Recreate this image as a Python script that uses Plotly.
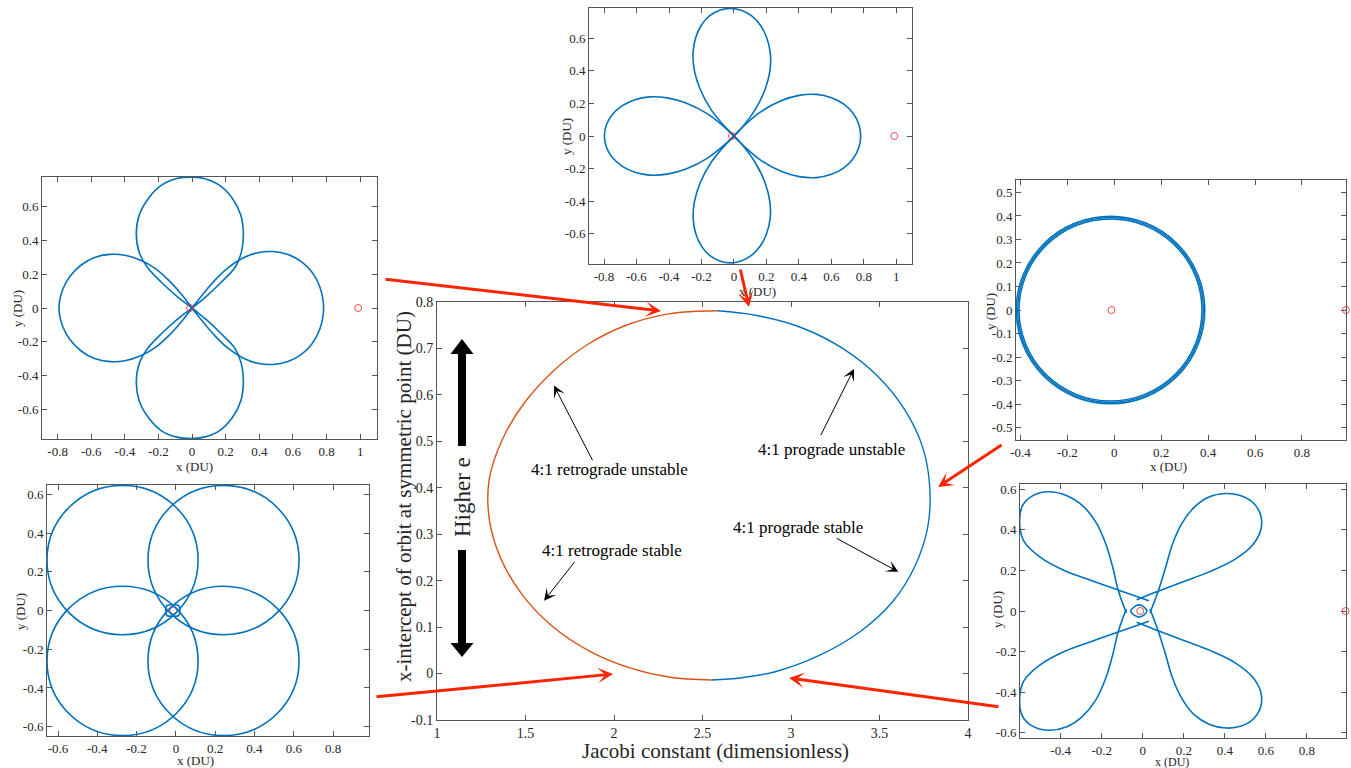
import plotly.graph_objects as go

W, H = 1351, 768
BLUE = "#0072BD"
ORANGE = "#D95319"
RED_ARROW = "#ff2400"
FRAME = "#555555"
TXT = "#262626"
FONT = "Liberation Serif"

# ---------------- family of 4:1 resonant orbits (centre panel)
retro_C = [2.585, 2.318, 2.076, 1.853, 1.659, 1.492, 1.368, 1.295, 1.296, 1.360, 1.481, 1.651, 1.864, 2.108, 2.318, 2.552]
retro_x0 = [0.781, 0.775, 0.751, 0.709, 0.652, 0.582, 0.503, 0.418, 0.331, 0.248, 0.170, 0.102, 0.048, 0.010, -0.008, -0.014]
pro_C = [2.585, 2.805, 3.064, 3.296, 3.493, 3.644, 3.745, 3.784, 3.772, 3.700, 3.575, 3.390, 3.160, 2.911, 2.720, 2.552]
pro_x0 = [0.781, 0.771, 0.744, 0.699, 0.639, 0.567, 0.486, 0.401, 0.314, 0.231, 0.155, 0.090, 0.039, 0.004, -0.009, -0.014]

main_xticks = [1, 1.5, 2, 2.5, 3, 3.5, 4]
main_xtext = ["1", "1.5", "2", "2.5", "3", "3.5", "4"]
main_yticks = [-0.1, 0, 0.1, 0.2, 0.3, 0.4, 0.5, 0.6, 0.7, 0.8]
main_ytext = ["-0.1", "0", "0.1", "0.2", "0.3", "0.4", "0.5", "0.6", "0.7", "0.8"]

# primaries (Earth, Moon) in the rotating frame
primary_x = [-0.01215, 0.98785]
primary_y = [0.0, 0.0]

# ---------------- orbit A: prograde unstable, round lobes through the origin
A_top_x = [0.03, 0.0, -0.085, -0.18, -0.265, -0.315, -0.332, -0.315, -0.26, -0.18, -0.09, -0.01, 0.07, 0.16, 0.24, 0.29, 0.305, 0.293, 0.255, 0.17, 0.08, 0.0, -0.03]
A_top_y = [-0.025, 0.0, 0.065, 0.15, 0.24, 0.33, 0.44, 0.55, 0.65, 0.73, 0.768, 0.776, 0.768, 0.73, 0.65, 0.55, 0.44, 0.33, 0.24, 0.15, 0.065, 0.0, -0.025]
A_right_x = [-0.025, 0.0, 0.065, 0.14, 0.215, 0.30, 0.39, 0.48, 0.57, 0.65, 0.715, 0.76, 0.78, 0.78, 0.76, 0.715, 0.65, 0.57, 0.48, 0.39, 0.30, 0.215, 0.14, 0.065, 0.0, -0.025]
A_right_y = [-0.03, 0.0, 0.083, 0.17, 0.24, 0.295, 0.328, 0.335, 0.318, 0.275, 0.21, 0.125, 0.04, -0.04, -0.125, -0.21, -0.275, -0.318, -0.335, -0.328, -0.295, -0.24, -0.17, -0.083, 0.0, 0.03]
A_left_x = [0.025, 0.0, -0.065, -0.14, -0.22, -0.31, -0.40, -0.49, -0.58, -0.66, -0.725, -0.77, -0.79, -0.79, -0.77, -0.725, -0.66, -0.58, -0.49, -0.40, -0.31, -0.22, -0.14, -0.065, 0.0, 0.025]
A_left_y = [-0.03, 0.0, 0.083, 0.165, 0.235, 0.285, 0.313, 0.318, 0.30, 0.255, 0.19, 0.11, 0.03, -0.03, -0.11, -0.19, -0.255, -0.30, -0.318, -0.313, -0.285, -0.235, -0.165, -0.083, 0.0, 0.03]
A_bot_x = [0.03, 0.0, -0.085, -0.18, -0.265, -0.315, -0.332, -0.315, -0.26, -0.18, -0.09, -0.01, 0.07, 0.16, 0.24, 0.29, 0.305, 0.293, 0.255, 0.17, 0.08, 0.0, -0.03]
A_bot_y = [0.025, 0.0, -0.065, -0.15, -0.24, -0.33, -0.44, -0.55, -0.65, -0.73, -0.766, -0.774, -0.766, -0.73, -0.65, -0.55, -0.44, -0.33, -0.24, -0.15, -0.065, 0.0, 0.025]

# ---------------- orbit B: top of the family, teardrop petals
B_top_x = [0.03, 0.0, -0.045, -0.141, -0.208, -0.244, -0.252, -0.236, -0.201, -0.151, -0.089, -0.022, 0.045, 0.109, 0.163, 0.202, 0.224, 0.222, 0.192, 0.131, 0.043, 0.0, -0.03]
B_top_y = [-0.03, 0.0, 0.045, 0.162, 0.287, 0.403, 0.510, 0.603, 0.679, 0.736, 0.771, 0.783, 0.771, 0.736, 0.679, 0.603, 0.510, 0.403, 0.287, 0.162, 0.045, 0.0, -0.03]
B_right_x = [-0.03, 0.0, 0.045, 0.162, 0.286, 0.402, 0.508, 0.601, 0.677, 0.734, 0.769, 0.781, 0.769, 0.734, 0.677, 0.601, 0.508, 0.402, 0.286, 0.162, 0.045, 0.0, -0.03]
B_right_y = [0.03, 0.0, -0.047, -0.146, -0.215, -0.249, -0.255, -0.235, -0.195, -0.139, -0.072, 0.0, 0.072, 0.139, 0.195, 0.235, 0.255, 0.249, 0.215, 0.146, 0.047, 0.0, -0.03]
B_left_x = [0.03, 0.0, -0.046, -0.165, -0.292, -0.411, -0.520, -0.614, -0.692, -0.750, -0.786, -0.798, -0.786, -0.750, -0.692, -0.614, -0.520, -0.411, -0.292, -0.165, -0.046, 0.0, 0.03]
B_left_y = [0.03, 0.0, -0.044, -0.137, -0.201, -0.234, -0.240, -0.221, -0.183, -0.131, -0.068, 0.0, 0.068, 0.131, 0.183, 0.221, 0.240, 0.234, 0.201, 0.137, 0.044, 0.0, -0.03]
B_bot_x = [0.03, 0.0, -0.045, -0.140, -0.207, -0.243, -0.251, -0.235, -0.200, -0.150, -0.088, -0.022, 0.044, 0.108, 0.162, 0.201, 0.223, 0.221, 0.191, 0.130, 0.043, 0.0, -0.03]
B_bot_y = [0.03, 0.0, -0.045, -0.161, -0.285, -0.401, -0.507, -0.599, -0.675, -0.732, -0.766, -0.778, -0.766, -0.732, -0.675, -0.599, -0.507, -0.401, -0.285, -0.161, -0.045, 0.0, 0.03]

# ---------------- orbit C: near-circular prograde stable, a few revolutions
C_ring_x0 = [-0.418, -0.412, -0.406]
C_ring_x1 = [0.386, 0.380, 0.374]
C_ring_y0 = [-0.399, -0.393, -0.387]
C_ring_y1 = [0.399, 0.393, 0.387]

# ---------------- orbit D: retrograde unstable, four circles
D_circ_x0 = [-0.656, -0.142, -0.656, -0.142]
D_circ_x1 = [0.113, 0.627, 0.113, 0.627]
D_circ_y0 = [-0.125, -0.125, -0.646, -0.646]
D_circ_y1 = [0.646, 0.646, 0.125, 0.125]
D_core_x = [-0.052, -0.047, -0.016, 0.015, 0.020, 0.015, -0.016, -0.047, -0.052]
D_core_y = [0.0, 0.025, 0.030, 0.025, 0.0, -0.025, -0.030, -0.025, 0.0]

# ---------------- orbit E: retrograde stable, diagonal petals
E_ur_x = [-0.03, 0.075, 0.20, 0.33, 0.45, 0.535, 0.575, 0.575, 0.54, 0.475, 0.40, 0.32, 0.25, 0.19, 0.145, 0.11, 0.075, 0.035]
E_ur_y = [0.055, 0.097, 0.145, 0.195, 0.255, 0.325, 0.40, 0.47, 0.53, 0.568, 0.578, 0.56, 0.51, 0.43, 0.33, 0.21, 0.097, -0.01]
E_ul_x = [0.03, -0.12, -0.25, -0.38, -0.50, -0.58, -0.60, -0.585, -0.535, -0.46, -0.375, -0.295, -0.23, -0.18, -0.145, -0.12, -0.08]
E_ul_y = [0.05, 0.103, 0.15, 0.198, 0.265, 0.345, 0.44, 0.52, 0.568, 0.587, 0.57, 0.52, 0.44, 0.33, 0.21, 0.103, -0.01]
E_lr_x = [-0.03, 0.075, 0.20, 0.33, 0.45, 0.535, 0.575, 0.575, 0.54, 0.48, 0.405, 0.325, 0.25, 0.19, 0.145, 0.11, 0.075, 0.035]
E_lr_y = [-0.055, -0.097, -0.145, -0.195, -0.255, -0.325, -0.40, -0.47, -0.53, -0.566, -0.576, -0.558, -0.51, -0.43, -0.33, -0.21, -0.097, 0.01]
E_ll_x = [0.03, -0.12, -0.25, -0.38, -0.50, -0.58, -0.60, -0.585, -0.535, -0.455, -0.37, -0.295, -0.23, -0.18, -0.145, -0.12, -0.08]
E_ll_y = [-0.05, -0.103, -0.15, -0.198, -0.265, -0.345, -0.44, -0.52, -0.568, -0.587, -0.57, -0.52, -0.44, -0.33, -0.21, -0.103, 0.01]
E_core_x = [-0.058, -0.040, -0.018, 0.004, 0.020, 0.004, -0.018, -0.040, -0.058]
E_core_y = [0.0, 0.022, 0.030, 0.022, 0.0, -0.022, -0.030, -0.022, 0.0]

# tick sets for the orbit panels
t_08_1 = [-0.8, -0.6, -0.4, -0.2, 0, 0.2, 0.4, 0.6, 0.8, 1]
t_08_1_txt = ["-0.8", "-0.6", "-0.4", "-0.2", "0", "0.2", "0.4", "0.6", "0.8", "1"]
t_06 = [-0.6, -0.4, -0.2, 0, 0.2, 0.4, 0.6]
t_06_txt = ["-0.6", "-0.4", "-0.2", "0", "0.2", "0.4", "0.6"]
t_06_08 = [-0.6, -0.4, -0.2, 0, 0.2, 0.4, 0.6, 0.8]
t_06_08_txt = ["-0.6", "-0.4", "-0.2", "0", "0.2", "0.4", "0.6", "0.8"]
t_04_08 = [-0.4, -0.2, 0, 0.2, 0.4, 0.6, 0.8]
t_04_08_txt = ["-0.4", "-0.2", "0", "0.2", "0.4", "0.6", "0.8"]
t_05 = [-0.5, -0.4, -0.3, -0.2, -0.1, 0, 0.1, 0.2, 0.3, 0.4, 0.5]
t_05_txt = ["-0.5", "-0.4", "-0.3", "-0.2", "-0.1", "0", "0.1", "0.2", "0.3", "0.4", "0.5"]


def px(x):
    return x / W


def py(y):
    return 1 - y / H


# panel frames in page pixels: left, right, top, bottom
panels = {
    "": dict(box=(437, 968, 302, 720), xr=[1, 4], yr=[-0.1, 0.8],
             xt=(main_xticks, main_xtext), yt=(main_yticks, main_ytext), fs=14),
    "2": dict(box=(42, 377, 177, 439), xr=[-0.893, 1.1], yr=[-0.777, 0.777],
              xt=(t_08_1, t_08_1_txt), yt=(t_06, t_06_txt), fs=13),
    "3": dict(box=(589, 912, 8, 264), xr=[-0.893, 1.097], yr=[-0.785, 0.785],
              xt=(t_08_1, t_08_1_txt), yt=(t_06, t_06_txt), fs=13),
    "4": dict(box=(1016, 1346, 180, 440), xr=[-0.419, 0.988], yr=[-0.553, 0.553],
              xt=(t_04_08, t_04_08_txt), yt=(t_05, t_05_txt), fs=13),
    "5": dict(box=(47, 369, 485, 736), xr=[-0.656, 0.983], yr=[-0.648, 0.648],
              xt=(t_06_08, t_06_08_txt), yt=(t_06, t_06_txt), fs=13),
    "6": dict(box=(1020, 1346, 484, 738), xr=[-0.598, 0.99], yr=[-0.625, 0.625],
              xt=(t_04_08, t_04_08_txt), yt=(t_06, t_06_txt), fs=13),
}

fig = go.Figure()


def line_trace(xs, ys, sfx, color=BLUE, width=1.6):
    fig.add_trace(go.Scatter(
        x=xs, y=ys, mode="lines", xaxis="x" + sfx, yaxis="y" + sfx,
        line=dict(color=color, width=width, shape="spline", smoothing=1.0),
        hoverinfo="skip", showlegend=False))


def primaries(sfx):
    fig.add_trace(go.Scatter(
        x=primary_x, y=primary_y, mode="markers", xaxis="x" + sfx, yaxis="y" + sfx,
        marker=dict(symbol="circle-open", size=7, color="rgba(255,40,40,0.85)", line=dict(width=1)),
        cliponaxis=False, hoverinfo="skip", showlegend=False))


# centre panel: orbit family
line_trace(retro_C, retro_x0, "", ORANGE, 1.4)
line_trace(pro_C, pro_x0, "", BLUE, 1.4)

# panel A
for xs, ys in [(A_top_x, A_top_y), (A_right_x, A_right_y), (A_left_x, A_left_y), (A_bot_x, A_bot_y)]:
    line_trace(xs, ys, "2")
primaries("2")

# panel B
for xs, ys in [(B_top_x, B_top_y), (B_right_x, B_right_y), (B_left_x, B_left_y), (B_bot_x, B_bot_y)]:
    line_trace(xs, ys, "3")
primaries("3")

# panel C (rings drawn as shapes below)
primaries("4")

# panel D
line_trace(D_core_x, D_core_y, "5")
primaries("5")

# panel E
for xs, ys in [(E_ur_x, E_ur_y), (E_ul_x, E_ul_y), (E_lr_x, E_lr_y), (E_ll_x, E_ll_y), (E_core_x, E_core_y)]:
    line_trace(xs, ys, "6")
primaries("6")

shapes = []
for x0, x1, y0, y1 in zip(C_ring_x0, C_ring_x1, C_ring_y0, C_ring_y1):
    shapes.append(dict(type="circle", xref="x4", yref="y4", x0=x0, x1=x1, y0=y0, y1=y1,
                       line=dict(color=BLUE, width=1.5)))
for x0, x1, y0, y1 in zip(D_circ_x0, D_circ_x1, D_circ_y0, D_circ_y1):
    shapes.append(dict(type="circle", xref="x5", yref="y5", x0=x0, x1=x1, y0=y0, y1=y1,
                       line=dict(color=BLUE, width=1.6)))

# "Higher e" double-headed arrow
HE_X, HE_HALF, HE_SHAFT = 462, 11.5, 4
up_tip, up_base, up_end = 339, 354, 446
dn_start, dn_base, dn_tip = 550, 643, 657
shapes.append(dict(type="path", xref="paper", yref="paper", fillcolor="black", line=dict(width=0),
                   path=f"M {px(HE_X - HE_HALF)},{py(up_base)} L {px(HE_X)},{py(up_tip)} L {px(HE_X + HE_HALF)},{py(up_base)} Z"))
shapes.append(dict(type="rect", xref="paper", yref="paper", fillcolor="black", line=dict(width=0),
                   x0=px(HE_X - HE_SHAFT), x1=px(HE_X + HE_SHAFT), y0=py(up_end), y1=py(up_base - 1)))
shapes.append(dict(type="rect", xref="paper", yref="paper", fillcolor="black", line=dict(width=0),
                   x0=px(HE_X - HE_SHAFT), x1=px(HE_X + HE_SHAFT), y0=py(dn_base + 1), y1=py(dn_start)))
shapes.append(dict(type="path", xref="paper", yref="paper", fillcolor="black", line=dict(width=0),
                   path=f"M {px(HE_X - HE_HALF)},{py(dn_base)} L {px(HE_X)},{py(dn_tip)} L {px(HE_X + HE_HALF)},{py(dn_base)} Z"))

annotations = []


def label(text, x, y, size=14, angle=0):
    annotations.append(dict(text=text, x=px(x), y=py(y), xref="paper", yref="paper",
                            showarrow=False, textangle=angle, xanchor="center", yanchor="middle",
                            font=dict(family=FONT, size=size, color=TXT)))


# axis titles of orbit panels
label("x (DU)", 194, 466, size=13)
label("y (DU)", 17, 309, size=13, angle=-90)
label("x (DU)", 757, 291, size=13)
label("y (DU)", 567, 137, size=13, angle=-90)
label("x (DU)", 1168, 466, size=13)
label("y (DU)", 990, 311, size=13, angle=-90)
label("x (DU)", 196, 760, size=13)
label("y (DU)", 20, 612, size=13, angle=-90)
label("x (DU)", 1172, 762, size=12)
label("y (DU)", 997, 610, size=13, angle=-90)

# centre panel titles
label("Jacobi constant (dimensionless)", 715, 751, size=21)
label("x-intercept of orbit at symmetric point (DU)", 404, 497, size=21, angle=-90)
label("Higher e", 462, 497, size=23, angle=-90)

# stability labels with pointers (data coordinates of the centre panel)
notes = [
    ("4:1 retrograde unstable", 1.977, 0.440, 1.661, 0.620, 1.883, 0.456),
    ("4:1 prograde unstable", 3.23, 0.483, 3.356, 0.656, 3.164, 0.510),
    ("4:1 prograde stable", 3.041, 0.314, 3.606, 0.219, 3.249, 0.293),
    ("4:1 retrograde stable", 1.987, 0.264, 1.605, 0.157, 1.785, 0.244),
]
for text, tx, ty, hx, hy, bx, by in notes:
    annotations.append(dict(text=text, x=tx, y=ty, xref="x", yref="y", showarrow=False,
                            font=dict(family=FONT, size=17, color="black")))
    annotations.append(dict(text="", x=hx, y=hy, xref="x", yref="y", ax=bx, ay=by,
                            axref="x", ayref="y", showarrow=True, arrowhead=3, arrowsize=2.0,
                            arrowwidth=1, arrowcolor="black", standoff=0))

# red pointers from each orbit to its place on the family curve (page pixels: tail -> head)
pointers = [
    ((384, 279), (661, 311)),
    ((740, 268), (749, 307)),
    ((1003, 444), (938, 487)),
    ((375, 697), (613, 674)),
    ((1000, 707), (789, 678)),
]
for (tx, ty), (hx, hy) in pointers:
    annotations.append(dict(text="", x=px(hx), y=py(hy), xref="paper", yref="paper",
                            ax=tx - hx, ay=ty - hy, showarrow=True, arrowhead=3, arrowsize=0.85,
                            arrowwidth=3, arrowcolor=RED_ARROW, standoff=0))

layout = dict(
    width=W, height=H, margin=dict(l=0, r=0, t=0, b=0),
    paper_bgcolor="white", plot_bgcolor="white",
    font=dict(family=FONT, size=14, color=TXT),
    shapes=shapes, annotations=annotations, showlegend=False,
)

for sfx, p in panels.items():
    l, r, t, b = p["box"]
    common = dict(showgrid=False, zeroline=False, showline=True, linecolor=FRAME, linewidth=1,
                  mirror="allticks", ticks="inside", ticklen=5, tickwidth=1, tickcolor=FRAME,
                  tickfont=dict(family=FONT, size=p["fs"], color=TXT), automargin=False,
                  fixedrange=True)
    layout["xaxis" + sfx] = dict(common, domain=[px(l), px(r)], range=p["xr"], anchor="y" + sfx,
                                 tickvals=p["xt"][0], ticktext=p["xt"][1])
    layout["yaxis" + sfx] = dict(common, domain=[py(b), py(t)], range=p["yr"], anchor="x" + sfx,
                                 tickvals=p["yt"][0], ticktext=p["yt"][1])

fig.update_layout(**layout)
fig.write_html("out.html")
